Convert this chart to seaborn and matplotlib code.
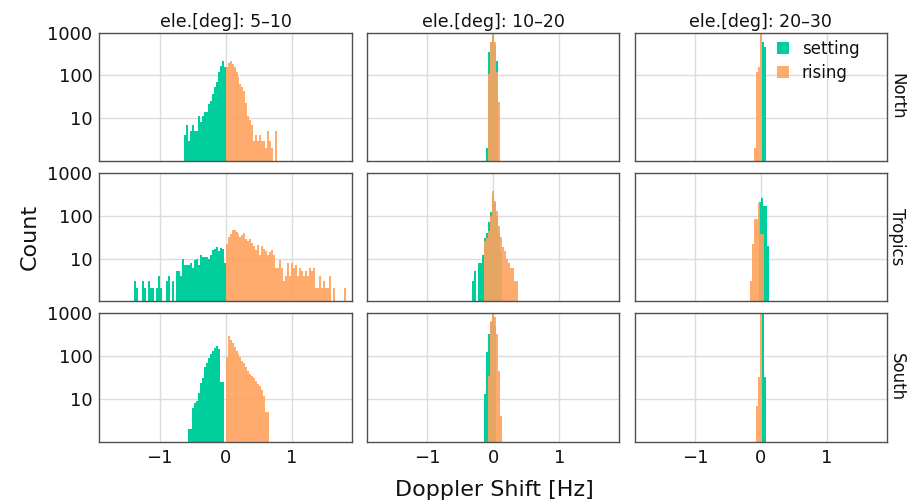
import numpy as np
import pandas as pd
import matplotlib
matplotlib.use("Agg")
import matplotlib.pyplot as plt
import seaborn as sns
from matplotlib.patches import Patch
from matplotlib.ticker import FixedLocator, NullLocator, FuncFormatter

# ---------------- data (counts per Doppler bin, bin width in Hz) ----------------
regions = ["North", "Tropics", "South"]
elevations = ["5–10", "10–20", "20–30"]
directions = ["setting", "rising"]
bin_width = 0.03

# elevation 5-10
north_5_10_setting_start = -0.63
north_5_10_setting = [4, 7, 3, 5, 7, 5, 5, 11, 8, 11, 14, 14, 21, 25, 37, 52, 68, 118, 168, 212, 159]
north_5_10_rising_start = 0.0
north_5_10_rising = [154, 191, 212, 180, 154, 118, 90, 63, 52, 44, 22, 11, 9, 7, 3, 4, 3, 4, 3, 3,
                     2, 5, 3, 2, 0, 5]

tropics_5_10_setting_start = -1.38
tropics_5_10_setting = [3, 2, 0, 0, 3, 2, 0, 3, 2, 2, 0, 2, 4, 2, 0, 0, 3, 4, 0, 3, 0, 5, 5, 4, 10,
                        7, 7, 7, 8, 6, 9, 10, 7, 12, 11, 11, 11, 10, 12, 16, 17, 19, 15, 18, 17, 8]
tropics_5_10_rising_start = 0.0
tropics_5_10_rising = [22, 31, 37, 47, 47, 41, 37, 31, 35, 39, 28, 25, 28, 23, 20, 16, 21, 12, 20, 17,
                       15, 12, 14, 16, 12, 6, 6, 9, 6, 3, 4, 8, 4, 8, 6, 7, 4, 6, 5, 4,
                       5, 4, 6, 5, 6, 2, 2, 4, 2, 3, 2, 2, 4, 0, 2, 0, 0, 0, 0, 0, 2]

south_5_10_setting_start = -0.57
south_5_10_setting = [2, 2, 6, 8, 9, 14, 24, 30, 55, 68, 90, 112, 135, 155, 175, 150, 25, 25]
south_5_10_rising_start = 0.0
south_5_10_rising = [93, 288, 240, 200, 161, 135, 112, 93, 75, 68, 57, 46, 38, 35, 31, 26, 22, 20,
                     16, 12, 5, 5]

# elevation 10-20
north_10_20_setting_start = -0.11
north_10_20_setting = [2, 358, 600, 1100, 500, 220]
north_10_20_rising_start = -0.08
north_10_20_rising = [107, 591, 980, 591, 117, 24]

tropics_10_20_setting_start = -0.32
tropics_10_20_setting = [3, 5, 0, 8, 8, 12, 30, 40, 70, 124, 300, 200, 100, 40, 15]
tropics_10_20_rising_start = -0.14
tropics_10_20_rising = [25, 30, 45, 100, 372, 225, 131, 58, 31, 19, 15, 10, 8, 6, 6, 3, 3]

south_10_20_setting_start = -0.14
south_10_20_setting = [13, 122, 330, 600, 900, 500]
south_10_20_rising_start = -0.08
south_10_20_rising = [35, 670, 970, 800, 330, 45, 4]

# elevation 20-30
north_20_30_setting_start = 0.01
north_20_30_setting = [612, 450]
north_20_30_rising_start = -0.11
north_20_30_rising = [2, 122, 154, 1200]

tropics_20_30_setting_start = -0.03
tropics_20_30_setting = [205, 254, 171, 171, 20]
tropics_20_30_rising_start = -0.16
tropics_20_30_rising = [3, 22, 84, 86, 198, 37, 37]

south_20_30_setting_start = 0.01
south_20_30_setting = [1100, 33]
south_20_30_rising_start = -0.08
south_20_30_rising = [7, 33, 1100]

y_ticks = [10, 100, 1000]
x_ticks = [-1, 0, 1]

panels = {
    ("North", "5–10"): [(north_5_10_setting_start, north_5_10_setting), (north_5_10_rising_start, north_5_10_rising)],
    ("Tropics", "5–10"): [(tropics_5_10_setting_start, tropics_5_10_setting), (tropics_5_10_rising_start, tropics_5_10_rising)],
    ("South", "5–10"): [(south_5_10_setting_start, south_5_10_setting), (south_5_10_rising_start, south_5_10_rising)],
    ("North", "10–20"): [(north_10_20_setting_start, north_10_20_setting), (north_10_20_rising_start, north_10_20_rising)],
    ("Tropics", "10–20"): [(tropics_10_20_setting_start, tropics_10_20_setting), (tropics_10_20_rising_start, tropics_10_20_rising)],
    ("South", "10–20"): [(south_10_20_setting_start, south_10_20_setting), (south_10_20_rising_start, south_10_20_rising)],
    ("North", "20–30"): [(north_20_30_setting_start, north_20_30_setting), (north_20_30_rising_start, north_20_30_rising)],
    ("Tropics", "20–30"): [(tropics_20_30_setting_start, tropics_20_30_setting), (tropics_20_30_rising_start, tropics_20_30_rising)],
    ("South", "20–30"): [(south_20_30_setting_start, south_20_30_setting), (south_20_30_rising_start, south_20_30_rising)],
}

# ---------------- styling ----------------
sns.set_style("white")
plt.rcParams["font.family"] = ["DejaVu Sans"]
plt.rcParams["text.color"] = "#111111"
plt.rcParams["xtick.labelcolor"] = "#111111"
plt.rcParams["ytick.labelcolor"] = "#111111"

colors = {"setting": "#00CF9D", "rising": "#FFA25E"}
alphas = {"setting": 1.0, "rising": 0.9}

fig, axes = plt.subplots(3, 3, figsize=(9.07, 5.04), dpi=100, sharex=True, sharey=True)
fig.subplots_adjust(left=0.1097, right=0.978, top=0.9355, bottom=0.1236,
                    wspace=0.061, hspace=0.093)

for i, region in enumerate(regions):
    for j, elev in enumerate(elevations):
        ax = axes[i, j]
        for direction, (start, counts) in zip(directions, panels[(region, elev)]):
            counts = np.asarray(counts, dtype=float)
            edges = start + bin_width * np.arange(len(counts) + 1)
            centers = edges[:-1] + bin_width / 2
            df = pd.DataFrame({"doppler": centers, "count": counts})
            sns.histplot(data=df, x="doppler", weights="count",
                         bins=[float(e) for e in edges], ax=ax,
                         color=colors[direction], alpha=alphas[direction],
                         linewidth=0, edgecolor="none", stat="count")
        ax.set_yscale("log", nonpositive="clip")
        ax.set_ylim(1, 1000)
        ax.set_xlim(-1.91, 1.91)
        ax.set_xlabel("")
        ax.set_ylabel("")
        ax.yaxis.set_major_locator(FixedLocator(y_ticks))
        ax.yaxis.set_minor_locator(NullLocator())
        ax.yaxis.set_major_formatter(FuncFormatter(lambda v, _: f"{v:g}"))
        ax.xaxis.set_major_locator(FixedLocator(x_ticks))
        ax.grid(True, color="#dcdcdc", linewidth=1.0)
        ax.set_axisbelow(True)
        for sp in ax.spines.values():
            sp.set_visible(True)
            sp.set_color("#505050")
            sp.set_linewidth(1.0)
        ax.tick_params(direction="in", length=4, width=1, color="#555555",
                       labelcolor="#111111", labelsize=13, pad=5)
        if i == 0:
            ax.set_title(f"ele.[deg]: {elev}", fontsize=12.5, pad=4, color="#111111")
        if j == 2:
            ax.text(1.040, 0.5, region, rotation=270, va="center", ha="center",
                    fontsize=12, color="#111111", transform=ax.transAxes)

handles = [Patch(facecolor=colors[d], alpha=alphas[d], edgecolor="none", label=d) for d in directions]
axes[0, 2].legend(handles=handles, loc="upper left", bbox_to_anchor=(0.51, 1.045),
                  frameon=False, fontsize=12, handlelength=0.75, handleheight=0.75,
                  handletextpad=0.75, labelspacing=0.35, borderpad=0.3)

fig.text(30 / 907, 1 - 237 / 504, "Count", rotation=90, va="center", ha="center", fontsize=16)
fig.text(494 / 907, 1 - 490 / 504, "Doppler Shift [Hz]", va="center", ha="center", fontsize=16)

fig.savefig("out.png", dpi=100)
